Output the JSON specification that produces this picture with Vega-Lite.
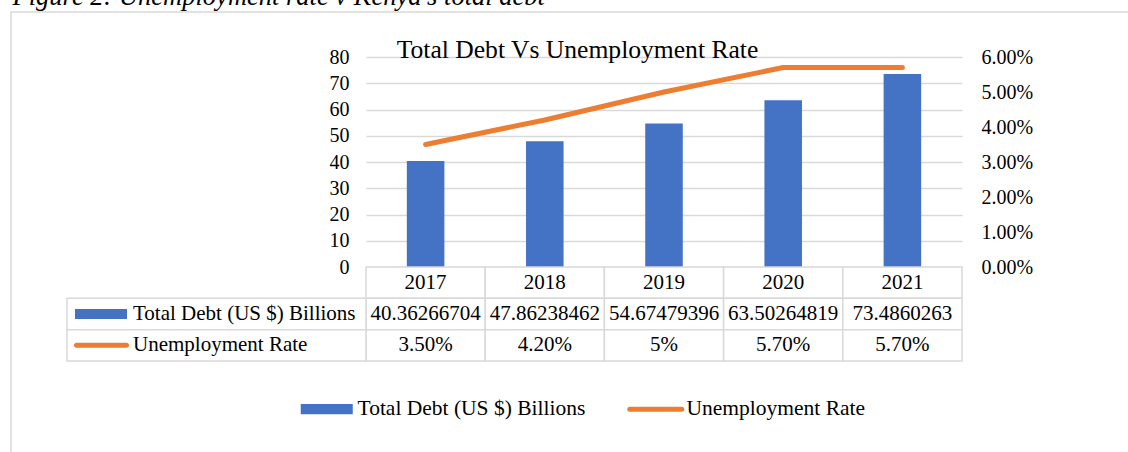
{
  "$schema": "https://vega.github.io/schema/vega-lite/v6.json",
  "width": 1119,
  "height": 442,
  "autosize": {"type": "none"},
  "padding": {"left": 11, "top": 12, "right": -2, "bottom": -2},
  "background": "white",
  "config": {
    "font": "Liberation Serif",
    "view": {"stroke": "#d9d9d9", "strokeWidth": 1.5}
  },
  "datasets": {
    "kenya": [
      {"year": "2017", "debt": 40.36266704, "rate": 0.035, "rateLabel": "3.50%"},
      {"year": "2018", "debt": 47.86238462, "rate": 0.042, "rateLabel": "4.20%"},
      {"year": "2019", "debt": 54.67479396, "rate": 0.05, "rateLabel": "5%"},
      {"year": "2020", "debt": 63.50264819, "rate": 0.057, "rateLabel": "5.70%"},
      {"year": "2021", "debt": 73.4860263, "rate": 0.057, "rateLabel": "5.70%"}
    ],
    "rows": [
      {"key": "debt", "label": "Total Debt (US $) Billions"},
      {"key": "rate", "label": "Unemployment Rate"}
    ]
  },
  "layer": [
    {
      "data": {"name": "kenya"},
      "mark": {"type": "bar"},
      "encoding": {
        "x": {"field": "year", "type": "nominal", "axis": null,
              "scale": {"domain": ["2017", "2018", "2019", "2020", "2021"], "range": [355, 951], "paddingInner": 0.685, "paddingOuter": 0.3425}},
        "y": {"field": "debt", "type": "quantitative",
              "scale": {"domain": [0, 80], "range": [255, 45], "nice": false, "zero": true},
              "axis": {"orient": "left", "offset": -355, "values": [0, 10, 20, 30, 40, 50, 60, 70, 80],
                       "domain": false, "ticks": false, "tickSize": 0, "labelPadding": 17,
                       "labelFont": "Liberation Serif", "labelFontSize": 20, "labelColor": "black",
                       "grid": true, "gridColor": "#d9d9d9", "gridWidth": 1.5,
                       "title": "Figure 2: Unemployment rate v Kenya's total debt",
                       "titleAngle": 0, "titleAlign": "left", "titleBaseline": "alphabetic",
                       "titleX": -354, "titleY": -8, "titleFont": "Liberation Serif", "titleFontSize": 26.5,
                       "titleFontStyle": "italic", "titleFontWeight": "normal", "titleColor": "black"}},
        "color": {"datum": "Total Debt (US $) Billions", "type": "nominal",
                  "scale": {"domain": ["Total Debt (US $) Billions", "Unemployment Rate"], "range": ["#4472C4", "#ED7D31"]},
                  "legend": {"orient": "none", "legendX": 305, "legendY": 386, "direction": "horizontal",
                             "title": null, "padding": 0, "symbolSize": 2704, "labelFont": "Liberation Serif",
                             "labelFontSize": 21.5, "labelColor": "black", "labelOffset": 20, "columnPadding": 33, "labelLimit": 0,
                             "encode": {"symbols": {"update": {
                               "shape": {"signal": "datum.value === 'Unemployment Rate' ? 'M-1,0H1' : 'M-1,-0.2H1V0.2H-1Z'"},
                               "fill": {"signal": "datum.value === 'Unemployment Rate' ? 'transparent' : '#4472C4'"},
                               "stroke": {"signal": "datum.value === 'Unemployment Rate' ? '#ED7D31' : 'transparent'"},
                               "strokeWidth": {"signal": "datum.value === 'Unemployment Rate' ? 5 : 0"},
                               "strokeCap": {"value": "round"},
                               "size": {"value": 2704},
                               "opacity": {"value": 1}
                             }}}}}
      }
    },
    {
      "data": {"name": "kenya"},
      "mark": {"type": "line", "strokeWidth": 5, "strokeCap": "round", "strokeJoin": "round"},
      "encoding": {
        "x": {"field": "year", "type": "nominal", "axis": null,
              "scale": {"domain": ["2017", "2018", "2019", "2020", "2021"], "range": [355, 951], "paddingInner": 0.685, "paddingOuter": 0.3425}},
        "y": {"field": "rate", "type": "quantitative",
              "scale": {"domain": [0, 0.06], "range": [255, 45], "nice": false, "zero": true},
              "axis": {"orient": "right", "offset": -168, "values": [0, 0.01, 0.02, 0.03, 0.04, 0.05, 0.06],
                       "format": ".2%", "domain": false, "ticks": false, "tickSize": 0, "labelPadding": 19,
                       "labelFont": "Liberation Serif", "labelFontSize": 20, "labelColor": "black", "grid": false,
                       "title": "Total Debt Vs Unemployment Rate", "titleAngle": 0, "titleAlign": "center",
                       "titleBaseline": "alphabetic", "titleX": -385, "titleY": 45, "titleFont": "Liberation Serif",
                       "titleFontSize": 25.6, "titleFontWeight": "normal", "titleColor": "black"}},
        "color": {"datum": "Unemployment Rate", "type": "nominal",
                  "scale": {"domain": ["Total Debt (US $) Billions", "Unemployment Rate"], "range": ["#4472C4", "#ED7D31"]},
                  "legend": {"orient": "none", "legendX": 305, "legendY": 386, "direction": "horizontal",
                             "title": null, "padding": 0, "symbolSize": 2704, "labelFont": "Liberation Serif",
                             "labelFontSize": 21.5, "labelColor": "black", "labelOffset": 20, "columnPadding": 33, "labelLimit": 0,
                             "encode": {"symbols": {"update": {
                               "shape": {"signal": "datum.value === 'Unemployment Rate' ? 'M-1,0H1' : 'M-1,-0.2H1V0.2H-1Z'"},
                               "fill": {"signal": "datum.value === 'Unemployment Rate' ? 'transparent' : '#4472C4'"},
                               "stroke": {"signal": "datum.value === 'Unemployment Rate' ? '#ED7D31' : 'transparent'"},
                               "strokeWidth": {"signal": "datum.value === 'Unemployment Rate' ? 5 : 0"},
                               "strokeCap": {"value": "round"},
                               "size": {"value": 2704},
                               "opacity": {"value": 1}
                             }}}}}
      }
    },
    {
      "data": {"name": "kenya"},
      "transform": [{"fold": ["year", "debt", "rate"], "as": ["row", "v"]}],
      "mark": {"type": "rect", "fill": "white", "stroke": "#d9d9d9", "strokeWidth": 1.5},
      "encoding": {
        "x": {"field": "year", "type": "nominal", "axis": null,
              "scale": {"domain": ["2017", "2018", "2019", "2020", "2021"], "range": [355, 951], "paddingInner": 0, "paddingOuter": 0}},
        "y": {"field": "row", "type": "nominal", "axis": null,
              "scale": {"domain": ["year", "debt", "rate"], "range": [255, 349], "paddingInner": 0, "paddingOuter": 0}}
      }
    },
    {
      "data": {"name": "rows"},
      "mark": {"type": "rect", "fill": "white", "stroke": "#d9d9d9", "strokeWidth": 1.5},
      "encoding": {
        "x": {"datum": "L", "type": "nominal", "axis": null,
              "scale": {"domain": ["L"], "range": [56, 355], "paddingInner": 0, "paddingOuter": 0}},
        "y": {"field": "key", "type": "nominal", "axis": null,
              "scale": {"domain": ["year", "debt", "rate"], "range": [255, 349], "paddingInner": 0, "paddingOuter": 0}}
      }
    },
    {
      "data": {"name": "kenya"},
      "mark": {"type": "text", "fontSize": 21, "color": "black", "font": "Liberation Serif"},
      "encoding": {
        "x": {"field": "year", "type": "nominal", "axis": null,
              "scale": {"domain": ["2017", "2018", "2019", "2020", "2021"], "range": [355, 951], "paddingInner": 0, "paddingOuter": 0}},
        "y": {"datum": "year", "type": "nominal", "axis": null,
              "scale": {"domain": ["year", "debt", "rate"], "range": [255, 349], "paddingInner": 0, "paddingOuter": 0}},
        "text": {"field": "year", "type": "nominal"}
      }
    },
    {
      "data": {"name": "kenya"},
      "mark": {"type": "text", "fontSize": 21, "color": "black", "font": "Liberation Serif"},
      "encoding": {
        "x": {"field": "year", "type": "nominal", "axis": null,
              "scale": {"domain": ["2017", "2018", "2019", "2020", "2021"], "range": [355, 951], "paddingInner": 0, "paddingOuter": 0}},
        "y": {"datum": "debt", "type": "nominal", "axis": null,
              "scale": {"domain": ["year", "debt", "rate"], "range": [255, 349], "paddingInner": 0, "paddingOuter": 0}},
        "text": {"field": "debt", "type": "nominal"}
      }
    },
    {
      "data": {"name": "kenya"},
      "mark": {"type": "text", "fontSize": 21, "color": "black", "font": "Liberation Serif"},
      "encoding": {
        "x": {"field": "year", "type": "nominal", "axis": null,
              "scale": {"domain": ["2017", "2018", "2019", "2020", "2021"], "range": [355, 951], "paddingInner": 0, "paddingOuter": 0}},
        "y": {"datum": "rate", "type": "nominal", "axis": null,
              "scale": {"domain": ["year", "debt", "rate"], "range": [255, 349], "paddingInner": 0, "paddingOuter": 0}},
        "text": {"field": "rateLabel", "type": "nominal"}
      }
    },
    {
      "data": {"name": "rows"},
      "mark": {"type": "text", "fontSize": 21, "color": "black", "font": "Liberation Serif", "align": "left", "dx": -83.5},
      "encoding": {
        "x": {"datum": "L", "type": "nominal", "axis": null,
              "scale": {"domain": ["L"], "range": [56, 355], "paddingInner": 0, "paddingOuter": 0}},
        "y": {"field": "key", "type": "nominal", "axis": null,
              "scale": {"domain": ["year", "debt", "rate"], "range": [255, 349], "paddingInner": 0, "paddingOuter": 0}},
        "text": {"field": "label", "type": "nominal"}
      }
    },
    {
      "data": {"name": "rows"},
      "transform": [{"filter": "datum.key === 'debt'"}],
      "mark": {"type": "tick", "orient": "horizontal", "size": 52, "thickness": 10, "color": "#4472C4", "opacity": 1, "xOffset": -115.5},
      "encoding": {
        "x": {"datum": "L", "type": "nominal", "axis": null,
              "scale": {"domain": ["L"], "range": [56, 355], "paddingInner": 0, "paddingOuter": 0}},
        "y": {"field": "key", "type": "nominal", "axis": null,
              "scale": {"domain": ["year", "debt", "rate"], "range": [255, 349], "paddingInner": 0, "paddingOuter": 0}}
      }
    },
    {
      "data": {"name": "rows"},
      "transform": [{"filter": "datum.key === 'rate'"}],
      "mark": {"type": "tick", "orient": "horizontal", "size": 55, "thickness": 5, "cornerRadius": 2.5, "color": "#ED7D31", "opacity": 1, "xOffset": -115},
      "encoding": {
        "x": {"datum": "L", "type": "nominal", "axis": null,
              "scale": {"domain": ["L"], "range": [56, 355], "paddingInner": 0, "paddingOuter": 0}},
        "y": {"field": "key", "type": "nominal", "axis": null,
              "scale": {"domain": ["year", "debt", "rate"], "range": [255, 349], "paddingInner": 0, "paddingOuter": 0}}
      }
    }
  ],
  "resolve": {"scale": {"x": "independent", "y": "independent"}}
}
